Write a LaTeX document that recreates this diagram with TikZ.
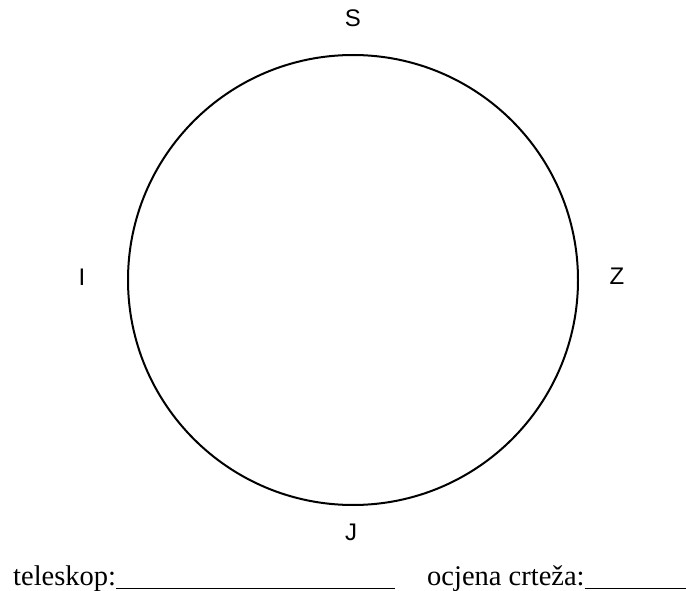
\documentclass[tikz,border=0pt]{standalone}
\usepackage{fontspec}
\setmainfont{Liberation Serif}
\newfontfamily\labfont{Liberation Sans}
\begin{document}
\begin{tikzpicture}[x=1pt,y=-1pt,
  lab/.style={font=\labfont\fontsize{24}{28}\selectfont, inner sep=0pt},
  foot/.style={font=\fontsize{28.5}{32}\selectfont, inner sep=0pt, anchor=base west}]
\useasboundingbox (0,0) rectangle (686,591);
\node[circle, draw, line width=2pt, minimum size=450pt, inner sep=0pt] (c) at (353,280) {};
\node[lab] (s) at (353,18) {S};
\node[lab] (i) at (82,277) {I};
\node[lab] (z) at (617,276) {Z};
\node[lab] (j) at (351,532) {J};
\node[foot] (t1) at (13,585) {teleskop:\rule[-4pt]{279pt}{1.4pt}};
\node[foot] (t2) at (427,585) {ocjena crteža:\rule[-4pt]{110pt}{1.4pt}};
\end{tikzpicture}
\end{document}
